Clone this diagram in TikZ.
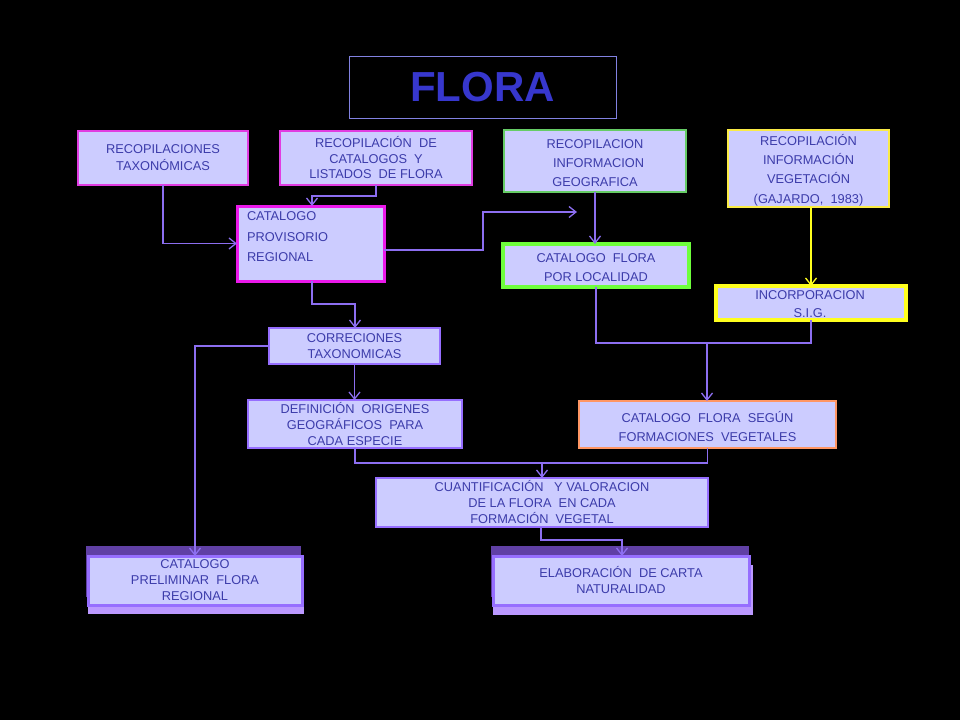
\documentclass[tikz,border=0pt]{standalone}
\usepackage{fontspec}
\setmainfont{Liberation Sans}
\usetikzlibrary{arrows.meta}
\definecolor{boxfill}{RGB}{204,204,255}
\definecolor{boxtext}{RGB}{60,60,170}
\definecolor{connc}{RGB}{140,110,240}
\definecolor{titlec}{RGB}{55,55,205}
\definecolor{titleborder}{RGB}{130,130,225}
\definecolor{magthin}{RGB}{225,60,225}
\definecolor{magthick}{RGB}{235,25,235}
\definecolor{grthin}{RGB}{102,204,102}
\definecolor{grthick}{RGB}{110,255,60}
\definecolor{yethin}{RGB}{250,235,70}
\definecolor{yethick}{RGB}{255,255,30}
\definecolor{orangec}{RGB}{255,150,100}
\definecolor{lavborder}{RGB}{150,110,255}
\definecolor{darkbar}{RGB}{96,64,165}
\definecolor{lightshadow}{RGB}{187,153,255}
\tikzset{
  box/.style={rectangle, fill=boxfill, inner sep=0pt, outer sep=0pt, text=boxtext, align=center},
  lsp/.style={font=\fontsize{12.8pt}{#1}\selectfont},
  conn/.style={draw=connc, line width=1.3pt, -{Straight Barb[length=7pt,width=11pt]}},
  conn0/.style={draw=connc, line width=1.3pt},
  txt/.style={text=boxtext, inner sep=0pt, outer sep=0pt}
}
\begin{document}
\begin{tikzpicture}[x=1pt,y=-1pt]
\fill[black] (0,0) rectangle (960,720);
\useasboundingbox (0,0) rectangle (960,720);

% title
\node[draw=titleborder, line width=1pt, minimum width=267pt, minimum height=62pt, inner sep=0pt,
      text=titlec, font=\fontsize{42pt}{48pt}\selectfont\bfseries] (title) at (482.5,87) {FLORA};

% top row
\node[box, draw=magthin, line width=1.8pt, minimum width=170pt, minimum height=54pt, lsp=17pt]
  (taxon) at (163,158) {RECOPILACIONES\\TAXONÓMICAS};
\node[box, draw=magthin, line width=1.8pt, minimum width=192pt, minimum height=54pt, lsp=15.5pt]
  (catal) at (376,158) {RECOPILACIÓN\ \ DE\\CATALOGOS\ \ Y\\LISTADOS\ \ DE FLORA};
\node[box, draw=grthin, line width=1.8pt, minimum width=182pt, minimum height=62pt, lsp=19pt]
  (geog) at (595,161) {};
\node[txt, lsp=19pt, align=center] (geogt) at (595,163) {RECOPILACION\\\ \ INFORMACION\\GEOGRAFICA};
\node[box, draw=yethin, line width=1.8pt, minimum width=161pt, minimum height=77pt, lsp=19.3pt]
  (veget) at (808.5,168.5) {};
\node[txt, lsp=19.3pt, align=center] (vegett) at (808.5,170) {RECOPILACIÓN\\INFORMACIÓN\\VEGETACIÓN\\(GAJARDO,\ \ 1983)};

% catalogo provisorio
\node[box, draw=magthick, line width=3pt, minimum width=147pt, minimum height=75pt]
  (prov) at (310.5,243.5) {};
\node[txt, lsp=20.5pt, align=left, anchor=west] (provt) at (247,237) {CATALOGO\\PROVISORIO\\REGIONAL};

% catalogo flora por localidad
\node[box, draw=grthick, line width=3.5pt, minimum width=186pt, minimum height=43pt]
  (local) at (596,265.5) {};
\node[txt, lsp=19pt, align=center] (localt) at (596,267.5) {CATALOGO\ \ FLORA\\POR LOCALIDAD};

% incorporacion SIG
\node[box, draw=yethick, line width=3.5pt, minimum width=190pt, minimum height=34pt]
  (sig) at (811,303) {};
\node[txt, lsp=18pt, align=center] (sigt) at (810,304.5) {INCORPORACION\\S.I.G.};

% middle
\node[box, draw=lavborder, line width=1.3pt, minimum width=171pt, minimum height=36pt, lsp=16pt]
  (corr) at (354.5,346) {CORRECIONES\\TAXONOMICAS};
\node[box, draw=lavborder, line width=1.3pt, minimum width=214pt, minimum height=48pt, lsp=16pt]
  (defin) at (355,424) {DEFINICIÓN\ \ ORIGENES\\GEOGRÁFICOS\ \ PARA\\CADA ESPECIE};
\node[box, draw=orangec, line width=1.5pt, minimum width=257pt, minimum height=47pt]
  (segun) at (707.5,424.5) {};
\node[txt, lsp=19pt, align=center] (segunt) at (707.5,426.5) {CATALOGO\ \ FLORA\ \ SEGÚN\\FORMACIONES\ \ VEGETALES};
\node[box, draw=lavborder, line width=1.3pt, minimum width=332pt, minimum height=49pt, lsp=16pt]
  (cuant) at (542,502.5) {CUANTIFICACIÓN\ \ \ Y VALORACION\\DE LA FLORA\ \ EN CADA\\FORMACIÓN\ \ VEGETAL};

% bottom 3D boxes
\fill[lightshadow] (88,565) rectangle (304,614);
\fill[darkbar] (86,546) rectangle (301,597);
\node[box, draw=lavborder, line width=3pt, minimum width=214pt, minimum height=49pt, lsp=16pt]
  (prelim) at (195,580.5) {CATALOGO\\PRELIMINAR\ \ FLORA\\REGIONAL};

\fill[lightshadow] (493,565) rectangle (753,615);
\fill[darkbar] (491,546) rectangle (749,597);
\node[box, draw=lavborder, line width=3pt, minimum width=256pt, minimum height=49pt, lsp=16pt]
  (elab) at (621,580.5) {ELABORACIÓN\ \ DE CARTA\\NATURALIDAD};

% connectors
\coordinate (bend3) at (483,212);
\coordinate (free) at (577,212);
\coordinate (j6) at (355,304);
\coordinate (j9) at (707,343);
\coordinate (j10) at (542,463);
\coordinate (j11) at (622,540);

\draw[conn] (taxon.south) |- (prov.west);
\draw[conn] (catal.south) -- ++(0,11) -| ([xshift=1.5pt]prov.north);
\draw[conn] ([yshift=-6.5pt]prov.east) -| (bend3) -- (free);
\draw[conn] (geog.south) -- (geog.south |- local.north);
\draw[draw=yethick, line width=1.3pt, -{Straight Barb[length=7pt,width=11pt]}]
  ([xshift=2.5pt]veget.south) -- ([xshift=2.5pt]veget.south |- sig.north);
\draw[conn] ([xshift=1.5pt]prov.south) |- (j6) -- (j6 |- corr.north);
\draw[conn] (corr.south) -- (corr.south |- defin.north);
\draw[conn] (corr.west) -| (prelim.north);
\draw[conn0] (local.south) |- (j9) -| (sig.south);
\draw[conn] (j9) -- (j9 |- segun.north);
\draw[conn0] (defin.south) |- (j10) -| (segun.south);
\draw[conn] (j10) -- (j10 |- cuant.north);
\draw[conn] ([xshift=-1pt]cuant.south) |- (j11) -- (j11 |- elab.north);
\end{tikzpicture}
\end{document}
